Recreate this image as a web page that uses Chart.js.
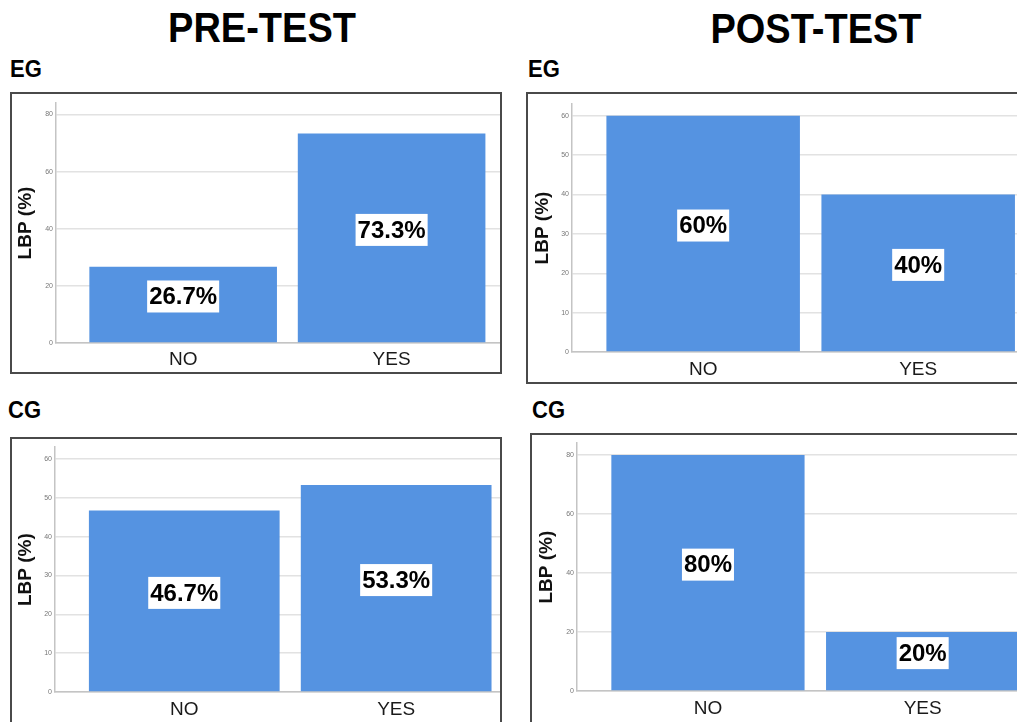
<!DOCTYPE html>
<html>
<head>
<meta charset="utf-8">
<script src="https://cdn.jsdelivr.net/npm/chart.js@4.4.0/dist/chart.umd.min.js"></script>
<style>
  html, body { margin: 0; padding: 0; background: #fff; }
  #page { position: relative; width: 1017px; height: 722px; overflow: hidden; font-family: "Liberation Sans", Arial, sans-serif; }
  .title { position: absolute; font-weight: bold; font-size: 38px; line-height: 1; color: #000; transform: translateX(-50%) scaleY(1.11); transform-origin: top center; white-space: nowrap; }
  .group { position: absolute; font-weight: bold; font-size: 22px; line-height: 1; color: #000; transform: scaleY(1.12); transform-origin: top left; }
  .frame { position: absolute; border: 2px solid #4a4a4a; box-sizing: border-box; }
  canvas { position: absolute; }
</style>
</head>
<body>
<div id="page">
  <div class="title" style="left:262px; top:6px;">PRE-TEST</div>
  <div class="title" style="left:816px; top:7px;">POST-TEST</div>
  <div class="group" style="left:10px; top:57px;">EG</div>
  <div class="group" style="left:528px; top:57px;">EG</div>
  <div class="group" style="left:8px; top:398px;">CG</div>
  <div class="group" style="left:532px; top:398px;">CG</div>

  <div class="frame" style="left:10px; top:92px; width:492px; height:282px;"></div>
  <div class="frame" style="left:526px; top:92px; width:520px; height:292px;"></div>
  <div class="frame" style="left:10px; top:437px; width:492px; height:300px;"></div>
  <div class="frame" style="left:530px; top:433px; width:520px; height:300px;"></div>

  <canvas id="pre-eg"></canvas>
  <canvas id="post-eg"></canvas>
  <canvas id="pre-cg"></canvas>
  <canvas id="post-cg"></canvas>
</div>
<script>
// Datos
const categories = ['NO', 'YES'];
const preEG = [26.7, 73.3];
const postEG = [60, 40];
const preCG = [46.7, 53.3];
const postCG = [80, 20];

// Marcas del eje Y
const ticksPreEG = [0, 20, 40, 60, 80];
const ticksPostEG = [0, 10, 20, 30, 40, 50, 60];
const ticksPreCG = [0, 10, 20, 30, 40, 50, 60];
const ticksPostCG = [0, 20, 40, 60, 80];

const BAR_COLOR = '#5593e1';
const FONT = '"Liberation Sans", Arial, sans-serif';

// Etiquetas con fondo blanco dentro de las barras
const barLabels = {
    id: 'barLabels',
    afterDatasetsDraw(chart) {
        const ctx = chart.ctx;
        const meta = chart.getDatasetMeta(0);
        const points = chart.data.datasets[0].data;
        ctx.save();
        ctx.font = 'bold 24px ' + FONT;
        ctx.textAlign = 'center';
        ctx.textBaseline = 'middle';
        meta.data.forEach((bar, i) => {
            const text = points[i].y + '%';
            const cx = bar.x;
            const cy = (bar.y + bar.base) / 2 - 8;
            const w = ctx.measureText(text).width + 4;
            ctx.fillStyle = '#ffffff';
            ctx.fillRect(cx - w / 2, cy - 16, w, 32);
            ctx.fillStyle = '#000000';
            ctx.fillText(text, cx, cy + 1);
        });
        ctx.restore();
    }
};

function makeChart(id, values, yTicks, yMax, box) {
    const canvas = document.getElementById(id);
    canvas.width = box.right - box.left;
    canvas.height = box.bottom - box.top;
    canvas.style.left = box.left + 'px';
    canvas.style.top = box.top + 'px';

    return new Chart(canvas.getContext('2d'), {
        type: 'bar',
        data: {
            datasets: [{
                data: categories.map((c, i) => ({ x: i, y: values[i] })),
                backgroundColor: BAR_COLOR,
                borderWidth: 0,
                barPercentage: 0.9,
                categoryPercentage: 1.0
            }]
        },
        options: {
            responsive: false,
            animation: false,
            layout: { padding: { top: box.plotTop - box.top, left: 0, right: 0, bottom: 0 } },
            plugins: { legend: { display: false }, tooltip: { enabled: false } },
            scales: {
                x: {
                    type: 'linear',
                    offset: false,
                    min: -0.61,
                    max: box.xMax,
                    afterBuildTicks: axis => { axis.ticks = categories.map((c, i) => ({ value: i })); },
                    afterFit: axis => { axis.height = box.bottom - box.plotBottom; },
                    grid: { display: false, drawTicks: false, offset: false },
                    border: { display: true, color: '#c4c4c4', width: 1.5 },
                    ticks: {
                        padding: box.xPad,
                        color: '#1a1a1a',
                        font: { family: FONT, size: 19 },
                        maxRotation: 0,
                        callback: v => categories[v]
                    }
                },
                y: {
                    min: 0,
                    max: yMax,
                    afterBuildTicks: axis => { axis.ticks = yTicks.map(v => ({ value: v })); },
                    afterFit: axis => { axis.width = box.plotLeft - box.left; },
                    grid: { color: '#e2e2e2', lineWidth: 1.5, drawTicks: false },
                    border: { display: true, color: '#c4c4c4', width: 1.5 },
                    ticks: {
                        padding: 3,
                        color: '#777',
                        font: { family: FONT, size: 7 }
                    },
                    title: {
                        display: true,
                        text: 'LBP (%)',
                        color: '#111',
                        padding: { top: 2, bottom: 0 },
                        font: { family: FONT, size: 19, weight: 'bold' }
                    }
                }
            }
        },
        plugins: [barLabels]
    });
}

makeChart('pre-eg', preEG, ticksPreEG, 84,
    { left: 12, top: 95, right: 500, bottom: 371, plotLeft: 56, plotTop: 103, plotBottom: 343, xMax: 1.52, xPad: 5 });
makeChart('post-eg', postEG, ticksPostEG, 63,
    { left: 529, top: 95, right: 1030, bottom: 381, plotLeft: 572, plotTop: 104, plotBottom: 352, xMax: 1.52, xPad: 6 });
makeChart('pre-cg', preCG, ticksPreCG, 63,
    { left: 12, top: 440, right: 500, bottom: 722, plotLeft: 55, plotTop: 447, plotBottom: 692, xMax: 1.49, xPad: 6 });
makeChart('post-cg', postCG, ticksPostCG, 84,
    { left: 533, top: 436, right: 1030, bottom: 722, plotLeft: 577, plotTop: 442, plotBottom: 691, xMax: 1.5, xPad: 6 });
</script>
</body>
</html>
